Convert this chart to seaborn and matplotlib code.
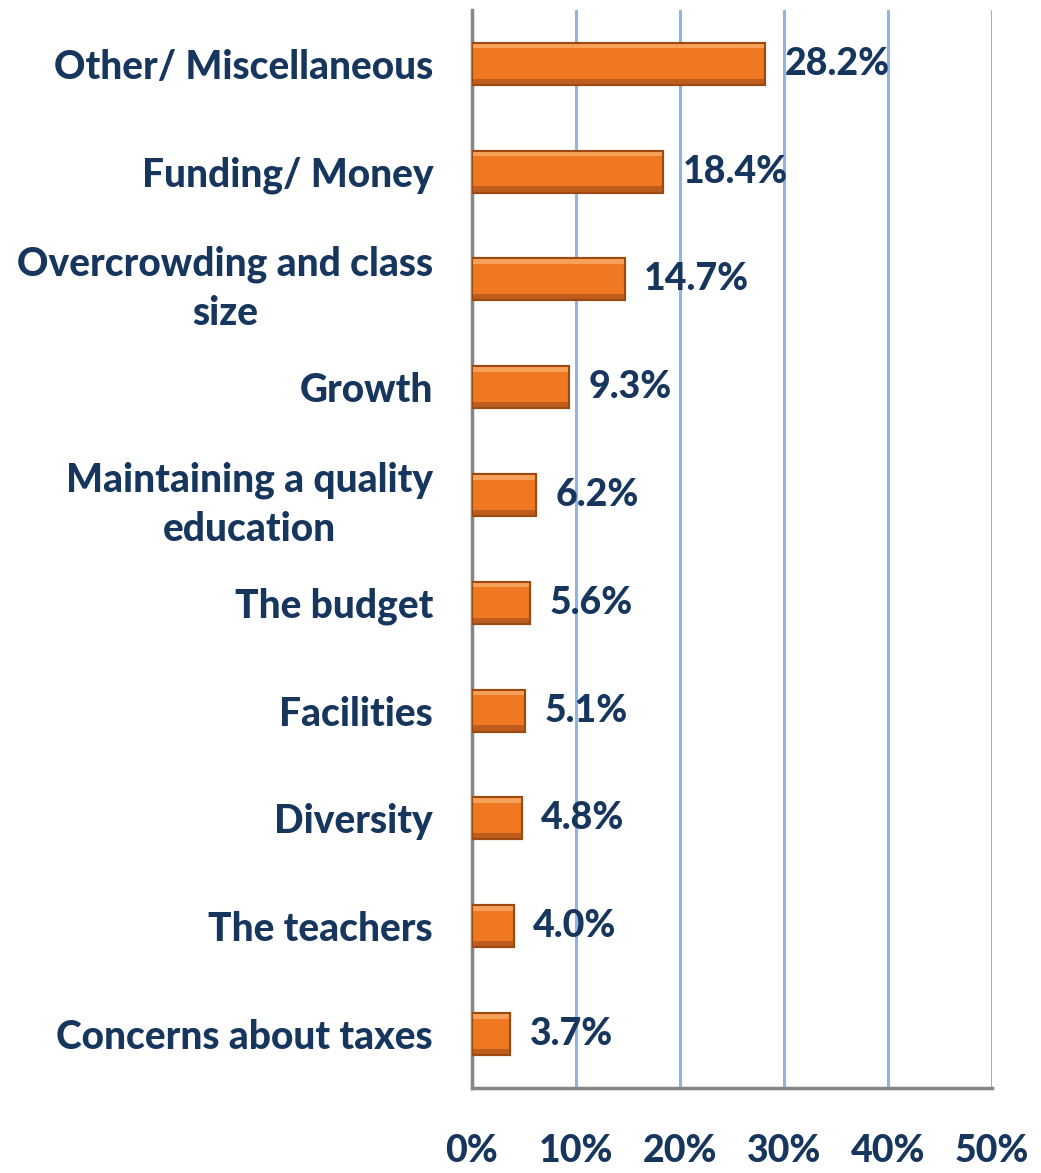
import matplotlib
matplotlib.use("Agg")
import matplotlib.pyplot as plt
import seaborn as sns
import pandas as pd
from matplotlib.ticker import FuncFormatter
from matplotlib.patches import Rectangle

categories = ["Other/ Miscellaneous", "Funding/ Money", "Overcrowding and class\nsize",
              "Growth", "Maintaining a quality\neducation", "The budget", "Facilities",
              "Diversity", "The teachers", "Concerns about taxes"]
values = [28.2, 18.4, 14.7, 9.3, 6.2, 5.6, 5.1, 4.8, 4.0, 3.7]
xticks = [0, 10, 20, 30, 40, 50]

sns.set_theme(style="white")
plt.rcParams['font.family'] = ['Lato', 'DejaVu Sans']
navy = "#17365D"

df = pd.DataFrame({"cat": categories, "val": values})
fig = plt.figure(figsize=(10.41, 11.73), dpi=100)
ax = fig.add_axes([0.4534, 0.0725, 0.4995, 0.919])

sns.barplot(data=df, y="cat", x="val", orient="h", color="#F07823",
            width=0.39, edgecolor="#9C4A12", linewidth=1.5, saturation=1, ax=ax, zorder=3)

# bevel highlights derived from the drawn bars
for p in list(ax.patches):
    x0, y0 = p.get_x(), p.get_y()
    w, h = p.get_width(), p.get_height()
    top = min(y0, y0 + h)
    hh = abs(h)
    ax.add_patch(Rectangle((x0, top), w, hh * 0.13, facecolor="#F7A057",
                           edgecolor="none", zorder=4))
    ax.add_patch(Rectangle((x0, top + hh * 0.85), w, hh * 0.15, facecolor="#BE5C1C",
                           edgecolor="none", zorder=4))
    ax.add_patch(Rectangle((x0, top), w, hh, facecolor="none",
                           edgecolor="#9C4A12", linewidth=1.5, zorder=5))

ax.set_xlim(0, 50)
ax.set_xticks(xticks)
ax.xaxis.set_major_formatter(FuncFormatter(lambda v, p: f"{int(v)}%"))
ax.grid(axis="x", color="#8EB4E3", linewidth=2.2, zorder=0)
ax.set_axisbelow(True)
ax.set_xlabel("")
ax.set_ylabel("")
for s in ["top", "right"]:
    ax.spines[s].set_visible(False)
for s in ["left", "bottom"]:
    ax.spines[s].set_color("#868686")
    ax.spines[s].set_linewidth(2.5)

ax.tick_params(axis="x", length=0, pad=33, labelsize=27, labelcolor=navy)
ax.tick_params(axis="y", length=0, pad=28, labelsize=28, labelcolor=navy)
for lab in ax.get_xticklabels() + ax.get_yticklabels():
    lab.set_fontweight("black")
for lab in ax.get_yticklabels():
    lab.set_multialignment("center")
    lab.set_linespacing(1.4)

for c in ax.containers:
    ax.bar_label(c, labels=[f"{v:.1f}%" for v in values], padding=14,
                 fontsize=27, fontweight="black", color=navy)

fig.savefig("out.png", dpi=100)
